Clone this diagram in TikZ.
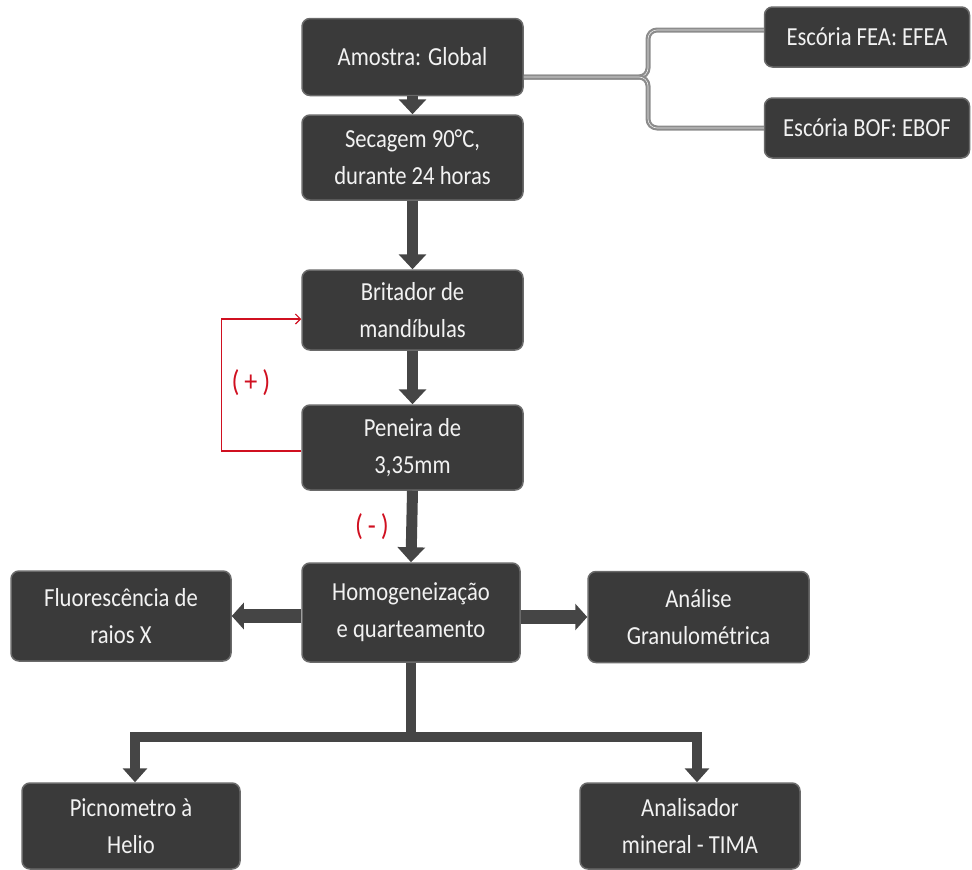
\documentclass[tikz,border=0pt]{standalone}
\usepackage{fontspec}
\setmainfont{Carlito}[FakeStretch=0.87]
\usetikzlibrary{arrows.meta}
\definecolor{boxfill}{HTML}{3A3A3A}
\definecolor{boxedge}{HTML}{6A6A6A}
\definecolor{boxtext}{HTML}{F2F2F2}
\definecolor{arrowc}{HTML}{454545}
\definecolor{loopred}{HTML}{D01020}
\definecolor{bracec}{HTML}{8C8C8C}
\begin{document}
\begin{tikzpicture}[x=1pt,y=-1pt,
  box/.style={draw=boxedge, line width=1.5pt, fill=boxfill, rounded corners=8pt,
    text=boxtext, align=center, inner sep=2pt,
    font=\fontsize{26}{37}\selectfont},
  varrow/.style={draw=arrowc, line width=11pt, -{Triangle[width=27pt,length=15pt]}},
  harrow/.style={draw=arrowc, line width=14pt, -{Triangle[width=26pt,length=12pt]}},
  treeline/.style={draw=arrowc, line width=10pt},
  tarrow/.style={draw=arrowc, line width=10pt, -{Triangle[width=24pt,length=14pt]}},
  loopline/.style={draw=loopred, line width=1.2pt},
  looplabel/.style={text=loopred, font=\fontsize{30}{32}\selectfont},
  brace/.style={draw=bracec, line width=2.2pt, double=white!85!gray, double distance=0.6pt, rounded corners=9pt}
]
\useasboundingbox (0,0) rectangle (972,870);

\coordinate (j) at (648,77);
\coordinate (bl) at (135,737);
\coordinate (br) at (697,737);

\node[box, minimum width=221pt, minimum height=77pt] (amostra) at (412.5,57) {Amostra: Global};
\node[box, minimum width=221pt, minimum height=85pt] (secagem) at (412.5,157.5) {Secagem 90°C,\\durante 24 horas};
\node[box, minimum width=221pt, minimum height=80pt] (britador) at (412.5,310) {Britador de\\mandíbulas};
\node[box, minimum width=221pt, minimum height=85pt] (peneira) at (412.5,447.5) {Peneira de\\3,35mm};
\node[box, minimum width=218pt, minimum height=99pt] (homog) at (411,612.5) {Homogeneização\\e quarteamento};
\node[box, minimum width=220pt, minimum height=90pt] (fluor) at (121,616) {Fluorescência de\\raios X};
\node[box, minimum width=221pt, minimum height=91pt] (analise) at (698.5,617) {Análise\\Granulométrica};
\node[box, minimum width=218pt, minimum height=86pt] (picno) at (131,826) {Picnometro à\\Helio};
\node[box, minimum width=220pt, minimum height=86pt] (analis) at (690,826) {Analisador\\mineral - TIMA};
\node[box, minimum width=205pt, minimum height=60pt] (fea) at (867,37) {Escória FEA: EFEA};
\node[box, minimum width=205pt, minimum height=60pt] (bof) at (867,128) {Escória BOF: EBOF};

% brace to the slag types
\draw[brace] (amostra.east |- j) -| (j |- 0,30) -- (fea.west |- 0,30);
\draw[brace] (amostra.east |- j) -| (j |- 0,128) -- (bof.west |- 0,128);

% main vertical arrows
\draw[varrow] (amostra.south) -- (secagem.north);
\draw[varrow] (secagem.south) -- (britador.north);
\draw[varrow] (britador.south) -- (peneira.north);
\draw[varrow] (peneira.south) -- (homog.north);

% side arrows
\draw[harrow] (homog.west |- fluor.east) -- (fluor.east);
\draw[harrow] (homog.east |- analise.west) -- (analise.west);

% tree
\draw[treeline] (homog.south) -- (homog.south |- bl);
\draw[treeline, line cap=rect] (bl) -- (br);
\draw[tarrow] (bl) -- (bl |- picno.north);
\draw[tarrow] (br) -- (br |- analis.north);

% recycle loop
\draw[loopline, -{Straight Barb[length=5pt,width=10pt]}] ([yshift=-3.5pt]peneira.west) -- ++(-80,0) |- ([yshift=-9pt]britador.west);
\node[looplabel] (plus) at (251,383) {(\,+\,)};
\node[looplabel] (minus) at (372,527) {(\,-\,)};
\end{tikzpicture}
\end{document}
